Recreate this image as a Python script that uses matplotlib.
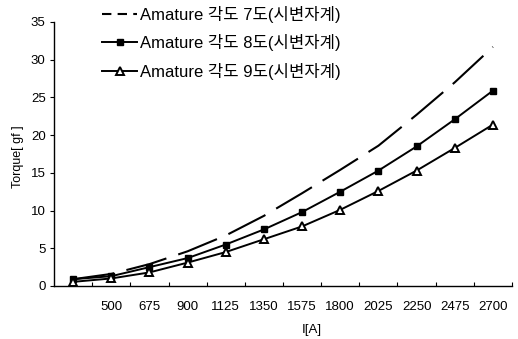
import matplotlib
matplotlib.use("Agg")
import matplotlib.pyplot as plt
from matplotlib.lines import Line2D

plt.rcParams['font.family'] = ['Liberation Sans', 'Noto Sans CJK KR', 'DejaVu Sans']

categories = ["", "500", "675", "900", "1125", "1350", "1575", "1800", "2025", "2250", "2475", "2700"]
series_names = ["Amature 각도 7도(시변자계)", "Amature 각도 8도(시변자계)", "Amature 각도 9도(시변자계)"]
torque_7 = [0.9, 1.6, 2.9, 4.6, 6.7, 9.3, 12.3, 15.4, 18.6, 22.7, 27.0, 31.7]
torque_8 = [0.9, 1.3, 2.5, 3.7, 5.5, 7.5, 9.8, 12.5, 15.3, 18.5, 22.1, 25.9]
torque_9 = [0.55, 1.0, 1.8, 3.1, 4.5, 6.2, 7.9, 10.1, 12.6, 15.3, 18.3, 21.4]
y_ticks = [0, 5, 10, 15, 20, 25, 30, 35]

fig = plt.figure(figsize=(5.18, 3.39), dpi=100)
ax = fig.add_axes([54/518, 1 - 286/339, (512-54)/518, (286-22)/339])

x = list(range(len(categories)))
l7, = ax.plot(x, torque_7, color='black', lw=1.5, linestyle=(0, (20, 6)))
l8, = ax.plot(x, torque_8, color='black', lw=1.4, marker='s', markersize=4,
              markerfacecolor='black', markeredgecolor='black')
l9, = ax.plot(x, torque_9, color='black', lw=1.4, marker='^', markersize=5.5,
              markerfacecolor='white', markeredgecolor='black', markeredgewidth=1.4)

ax.set_xlim(-0.5, len(categories) - 0.5)
ax.set_ylim(0, 35)
ax.set_yticks(y_ticks)
ax.tick_params(axis='y', direction='out', length=3, labelsize=9.5, pad=3)

bounds = [i + 0.5 for i in range(len(categories))]
ax.set_xticks(bounds)
ax.set_xticklabels([''] * len(bounds))
ax.tick_params(axis='x', which='major', direction='in', length=3)
ax.set_xticks(x, minor=True)
ax.set_xticklabels(categories, minor=True, fontsize=9.5)
ax.tick_params(axis='x', which='minor', length=0, pad=11)

for s in ['top', 'right']:
    ax.spines[s].set_visible(False)
for s in ['left', 'bottom']:
    ax.spines[s].set_linewidth(1.0)

ax.set_ylabel("Torque[ gf ]", fontsize=9)
ax.yaxis.set_label_coords(-0.065, 0.49)
ax.set_xlabel("I[A]", fontsize=9.5)
ax.xaxis.set_label_coords((312-54)/(512-54), -0.145)

h7 = Line2D([], [], color='black', lw=1.5, linestyle=(0, (4.5, 3)))
leg = ax.legend([h7, l8, l9], series_names, loc='upper left',
                bbox_to_anchor=((102-54)/458, (286-6)/264), frameon=False, fontsize=12,
                borderpad=0, borderaxespad=0,
                handlelength=2.1, labelspacing=0.68, handletextpad=0.15)

fig.savefig("out.png", dpi=100)
